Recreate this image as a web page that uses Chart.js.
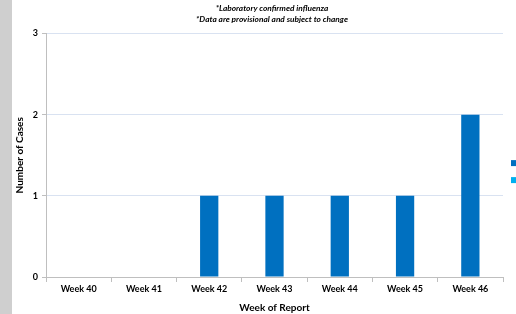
<!DOCTYPE html>
<html>
<head>
<meta charset="utf-8">
<script src="https://cdn.jsdelivr.net/npm/chart.js@4"></script>
<style>
  html, body { margin: 0; padding: 0; overflow: hidden; }
  body { width: 516px; height: 314px; background: #cfcfcf; position: relative; }
  #wrap { position: absolute; left: 12px; top: 0; width: 520px; height: 314px; background: #fff; }
</style>
</head>
<body>
<div id="wrap"><canvas id="fluChart" width="520" height="314"></canvas></div>
<script>
// Chart data
var weeks = ["Week 40", "Week 41", "Week 42", "Week 43", "Week 44", "Week 45", "Week 46"];
var fluA = [0, 0, 1, 1, 1, 1, 2];
var fluB = [0, 0, 0, 0, 0, 0, 0];
var yTicks = [0, 1, 2, 3];

Chart.defaults.font.family = "Lato, sans-serif";
Chart.defaults.color = "#000000";

var ctx = document.getElementById("fluChart");
var fluChart = new Chart(ctx, {
  type: "bar",
  data: {
    labels: weeks,
    datasets: [
      { label: "Influenza A", data: fluA, backgroundColor: "#0070c0", barPercentage: 0.28, categoryPercentage: 1 },
      { label: "Influenza B", data: fluB, backgroundColor: "#00b0f0", barPercentage: 0.28, categoryPercentage: 1 }
    ]
  },
  options: {
    responsive: false,
    animation: false,
    plugins: {
      // legend runs off the right edge of the window, only the boxes show
      legend: {
        display: true,
        position: "right",
        maxWidth: 29,
        title: { display: true, text: "", font: { size: 1 }, padding: { top: 28, bottom: 0 } },
        labels: { boxWidth: 6, boxHeight: 6, padding: 8, font: { size: 9 } }
      },
      tooltip: { enabled: false },
      title: {
        display: true,
        text: ["*Laboratory confirmed influenza", "*Data are provisional and subject to change"],
        font: { size: 8.3, weight: "bold", style: "italic", lineHeight: 1.3 },
        color: "#000000",
        padding: { top: 3, bottom: 9 }
      }
    },
    scales: {
      x: {
        stacked: true,
        afterFit: function (scale) { scale.height = 37; },
        grid: { display: true, drawOnChartArea: false, offset: true, tickLength: 5, color: "#bfbfbf" },
        border: { color: "#bfbfbf" },
        ticks: { font: { size: 9, weight: "bold" }, padding: 2, maxRotation: 0 },
        title: { display: true, text: "Week of Report", font: { size: 10, weight: "bold" }, padding: { top: 0, bottom: 0 } }
      },
      y: {
        stacked: true,
        min: 0,
        max: 3,
        afterFit: function (scale) { scale.width = 34; },
        afterBuildTicks: function (scale) {
          scale.ticks = yTicks.map(function (v) { return { value: v }; });
        },
        grid: { color: "#d9e2f1", tickLength: 4, tickColor: "#bfbfbf" },
        border: { color: "#bfbfbf" },
        ticks: { font: { size: 9, weight: "bold" }, padding: 4 },
        title: { display: true, text: "Number of Cases", font: { size: 10, weight: "bold" }, padding: { top: 2, bottom: 0 } }
      }
    }
  }
});
</script>
</body>
</html>
